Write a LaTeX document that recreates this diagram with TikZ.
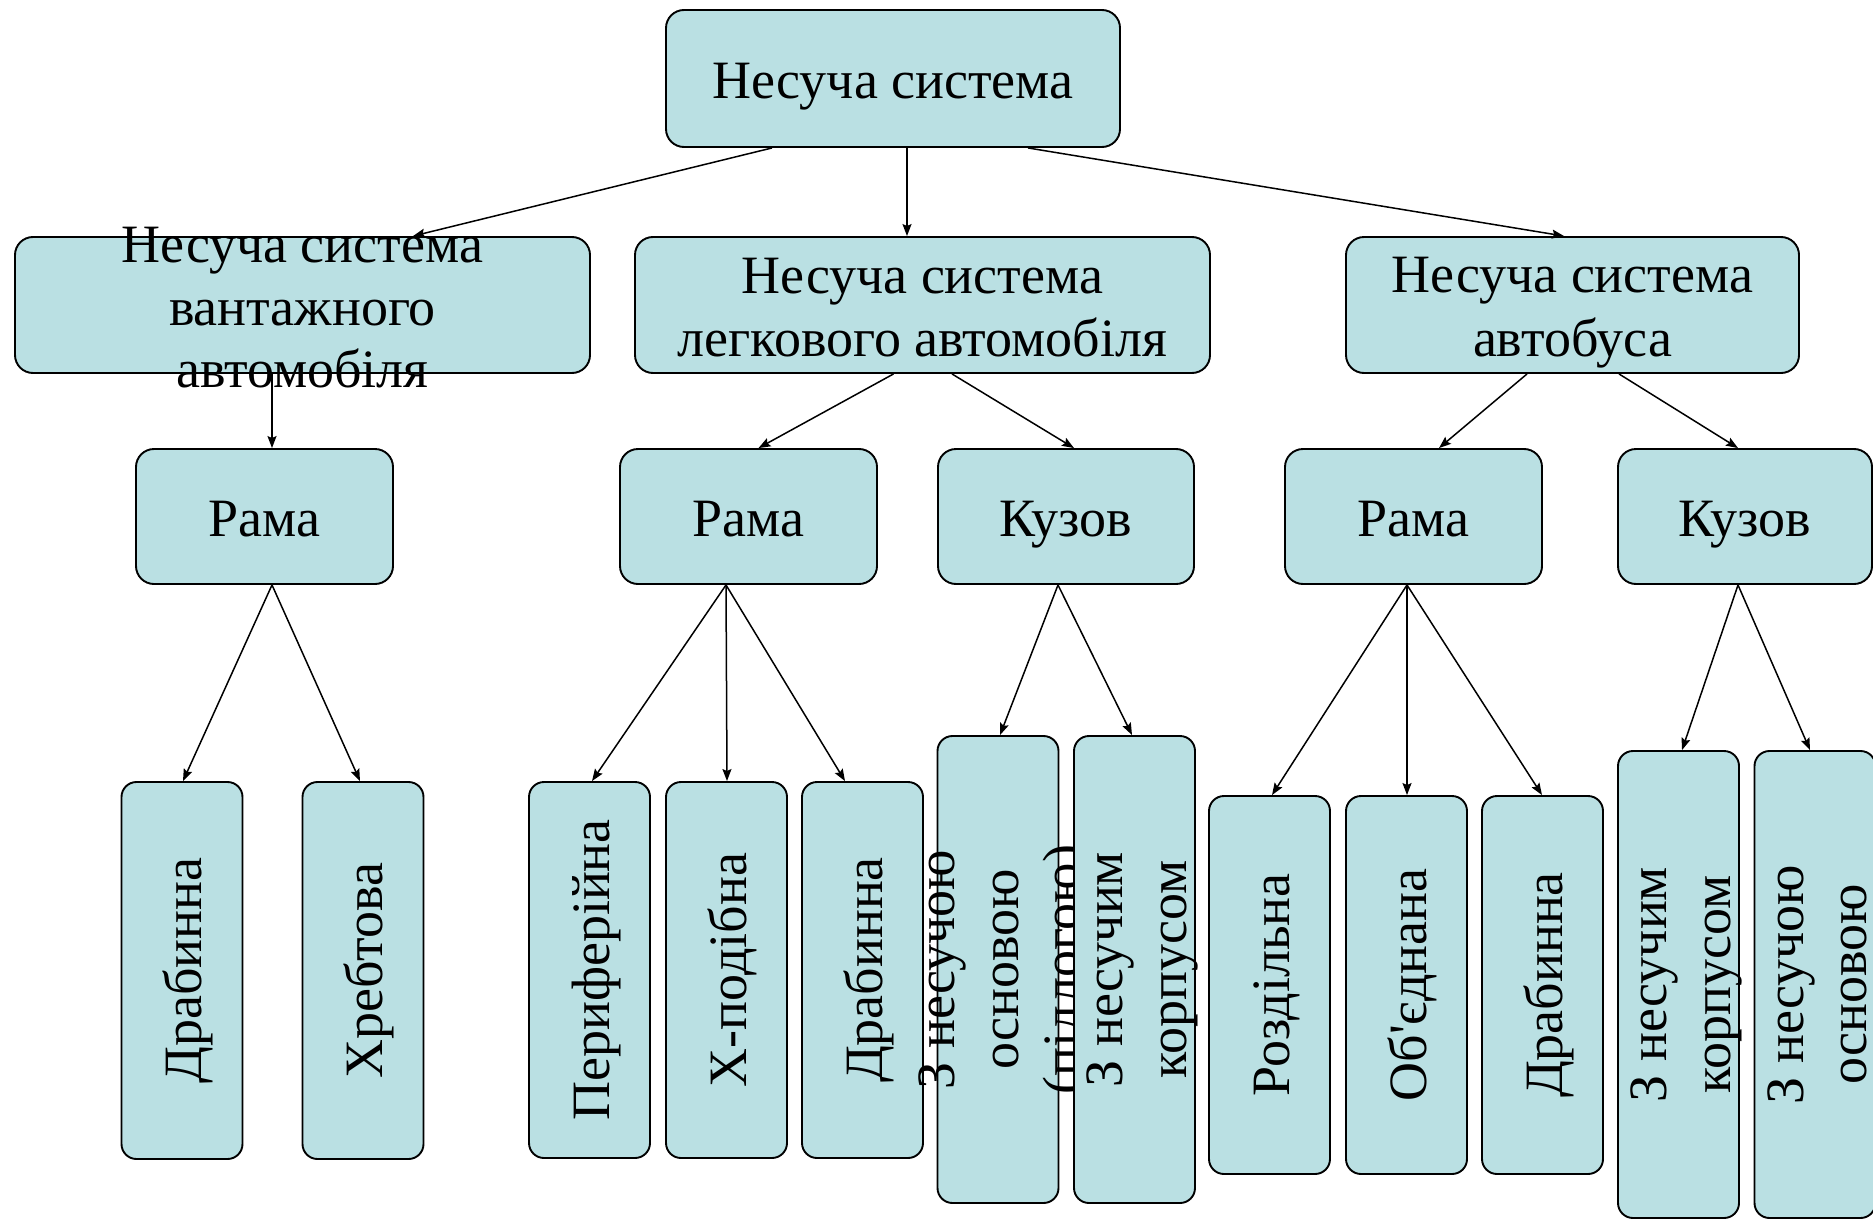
\documentclass[tikz,border=0pt]{standalone}
\usepackage{fontspec}
\setmainfont{Liberation Serif}
\usetikzlibrary{arrows.meta}
\definecolor{boxfill}{RGB}{186,224,227}
\newcommand{\mystrut}{\rule[-11pt]{0pt}{62pt}}
\begin{document}
\begin{tikzpicture}[x=1pt,y=-1pt,
  box/.style={draw=black, fill=boxfill, line width=1.9pt, rounded corners=18pt,
    inner sep=0pt, align=center, font=\fontsize{54}{62}\selectfont},
  hbox/.style={box, minimum height=136pt},
  vbox/.style={box, rounded corners=15pt, minimum width=121pt},
  lbl/.style={inner sep=0pt, align=center, font=\fontsize{54}{62}\selectfont},
  vlbl/.style={lbl, rotate=90},
  arr/.style={-{Stealth[length=12pt,width=9pt,inset=2pt]}, line width=1.5pt}]
\useasboundingbox (0,0) rectangle (1873,1220);
\clip (0,0) rectangle (1873,1220);

% level 1
\node[box, minimum width=454pt, minimum height=137pt] (top) at (893,78.5) {\mystrut Несуча система};

% level 2
\node[hbox, minimum width=575pt] (L2a) at (302.5,305) {};
\node[lbl] (L2a-t) at (L2a) {\mystrut Несуча система\\\mystrut вантажного\\\mystrut автомобіля};
\node[hbox, minimum width=575pt] (L2b) at (922.5,305) {\mystrut Несуча система\\\mystrut легкового автомобіля};
\node[hbox, minimum width=453pt] (L2c) at (1572.5,305) {\mystrut Несуча система\\\mystrut автобуса};

% level 3
\node[box, minimum width=257pt, minimum height=135pt] (r1) at (264.5,516.5) {\mystrut Рама};
\node[box, minimum width=257pt, minimum height=135pt] (r2) at (748.5,516.5) {\mystrut Рама};
\node[box, minimum width=256pt, minimum height=135pt] (k2) at (1066,516.5) {\mystrut Кузов};
\node[box, minimum width=257pt, minimum height=135pt] (r3) at (1413.5,516.5) {\mystrut Рама};
\node[box, minimum width=254pt, minimum height=135pt] (k3) at (1745,516.5) {\mystrut Кузов};

% level 4
\node[vbox, minimum height=377pt] (dr1) at (182,970.5) {};
\node[vlbl] (dr1-t) at (dr1) {\mystrut Драбинна};
\node[vbox, minimum height=377pt] (hr) at (363,970.5) {};
\node[vlbl] (hr-t) at (hr) {\mystrut Хребтова};
\node[vbox, minimum height=376pt] (per) at (589.5,970) {};
\node[vlbl] (per-t) at (per) {\mystrut Периферійна};
\node[vbox, minimum height=376pt] (xp) at (726.5,970) {};
\node[vlbl] (xp-t) at (xp) {\mystrut Х-подібна};
\node[vbox, minimum height=376pt] (dr2) at (862.5,970) {};
\node[vlbl] (dr2-t) at (dr2) {\mystrut Драбинна};
\node[vbox, minimum height=467pt] (zno) at (998,969.5) {};
\node[vlbl] (zno-t) at (zno) {\mystrut З несучою\\\mystrut основою\\\mystrut (підлогою)};
\node[vbox, minimum height=467pt] (znk) at (1134.5,969.5) {};
\node[vlbl] (znk-t) at (znk) {\mystrut З несучим\\\mystrut корпусом};
\node[vbox, minimum height=378pt] (roz) at (1269.5,985) {};
\node[vlbl] (roz-t) at (roz) {\mystrut Роздільна};
\node[vbox, minimum height=378pt] (ob) at (1406.5,985) {};
\node[vlbl] (ob-t) at (ob) {\mystrut Об\textquotesingle єднана};
\node[vbox, minimum height=378pt] (dr3) at (1542.5,985) {};
\node[vlbl] (dr3-t) at (dr3) {\mystrut Драбинна};
\node[vbox, minimum height=467pt] (znkb) at (1678.5,984.5) {};
\node[vlbl] (znkb-t) at (znkb) {\mystrut З несучим\\\mystrut корпусом};
\node[vbox, minimum height=467pt] (znob) at (1815,984.5) {};
\node[vlbl] (znob-t) at (znob) {\mystrut З несучою\\\mystrut основою};

% connectors
\draw[arr] ([xshift=-121pt]top.south) -- ([xshift=110.5pt]L2a.north);
\draw[arr] ([xshift=14pt]top.south) -- ([xshift=-15.5pt]L2b.north);
\draw[arr] ([xshift=135pt]top.south) -- ([xshift=-8.5pt]L2c.north);

\draw[arr] ([xshift=-30.5pt]L2a.south) -- ([xshift=7.5pt]r1.north);
\draw[arr] ([xshift=-29pt]L2b.south) -- ([xshift=10pt]r2.north);
\draw[arr] ([xshift=29.5pt]L2b.south) -- ([xshift=8pt]k2.north);
\draw[arr] ([xshift=-45.5pt]L2c.south) -- ([xshift=25.5pt]r3.north);
\draw[arr] ([xshift=46.5pt]L2c.south) -- ([xshift=-7pt]k3.north);

\draw[arr] ([xshift=7.5pt]r1.south) -- ([xshift=1pt]dr1.north);
\draw[arr] ([xshift=7.5pt]r1.south) -- ([xshift=-3pt]hr.north);
\draw[arr] ([xshift=-22.5pt]r2.south) -- ([xshift=2.5pt]per.north);
\draw[arr] ([xshift=-22.5pt]r2.south) -- ([xshift=0.5pt]xp.north);
\draw[arr] ([xshift=-22.5pt]r2.south) -- ([xshift=-17.5pt]dr2.north);
\draw[arr] ([xshift=-8pt]k2.south) -- ([xshift=2pt]zno.north);
\draw[arr] ([xshift=-8pt]k2.south) -- ([xshift=-2.5pt]znk.north);
\draw[arr] ([xshift=-6.5pt]r3.south) -- ([xshift=2.5pt]roz.north);
\draw[arr] ([xshift=-6.5pt]r3.south) -- ([xshift=0.5pt]ob.north);
\draw[arr] ([xshift=-6.5pt]r3.south) -- ([xshift=-0.5pt]dr3.north);
\draw[arr] ([xshift=-7pt]k3.south) -- ([xshift=3.5pt]znkb.north);
\draw[arr] ([xshift=-7pt]k3.south) -- ([xshift=-5pt]znob.north);
\end{tikzpicture}
\end{document}
